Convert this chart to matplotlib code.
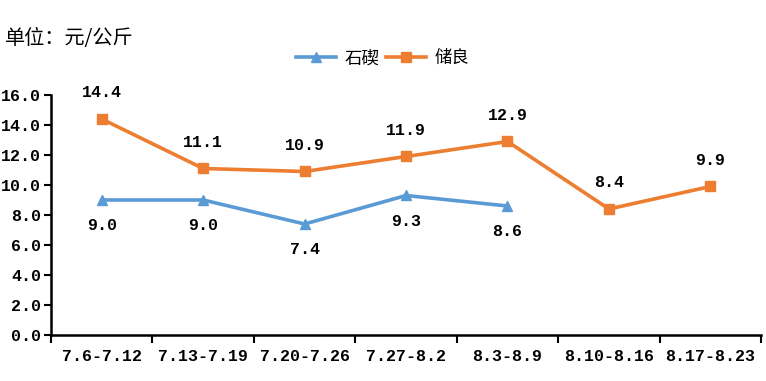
import matplotlib
matplotlib.use('Agg')
import matplotlib.pyplot as plt
import numpy as np

plt.rcParams['font.family'] = ['Liberation Mono', 'Noto Sans CJK SC', 'DejaVu Sans']

weeks = ['7.6-7.12', '7.13-7.19', '7.20-7.26', '7.27-8.2', '8.3-8.9', '8.10-8.16', '8.17-8.23']
shiqi = [9.0, 9.0, 7.4, 9.3, 8.6, np.nan, np.nan]
chuliang = [14.4, 11.1, 10.9, 11.9, 12.9, 8.4, 9.9]

blue = '#5B9BD5'
orange = '#ED7D31'

fig = plt.figure(figsize=(7.66, 3.81), dpi=100)
ax = fig.add_axes([0.0666, 0.1207, 0.927, 0.63])

x = np.arange(len(weeks))
ax.plot(x, shiqi, color=blue, lw=2.6, marker='^', ms=7, label='石碶')
ax.plot(x, chuliang, color=orange, lw=2.6, marker='s', ms=6.5, label='储良')

# data labels: 石碶 below the point, 储良 above
for xi, v in zip(x, shiqi):
    if not np.isnan(v):
        ax.annotate(f'{v:.1f}', (xi, v), xytext=(0, -26), textcoords='offset pixels',
                    ha='center', va='center', fontsize=12, fontweight='bold')
for xi, v in zip(x, chuliang):
    ax.annotate(f'{v:.1f}', (xi, v), xytext=(0, 26), textcoords='offset pixels',
                ha='center', va='center', fontsize=12, fontweight='bold')

ax.set_xlim(-0.5, len(weeks) - 0.5)
ax.set_ylim(0, 16)
ax.set_yticks(np.arange(0, 17, 2))
ax.set_yticklabels([f'{t:.1f}' for t in np.arange(0, 17, 2)], fontsize=12, fontweight='bold')
ax.set_xticks(np.arange(-0.5, len(weeks), 1.0))
ax.set_xticklabels([])
ax.set_xticks(x, minor=True)
ax.set_xticklabels(weeks, minor=True, fontsize=12, fontweight='bold')
ax.tick_params(axis='x', which='minor', length=0, pad=10)
ax.tick_params(axis='x', which='major', length=6, width=1.5, direction='out')
ax.tick_params(axis='y', length=5, width=1.5, direction='out', pad=2)

for s in ['top', 'right']:
    ax.spines[s].set_visible(False)
for s in ['left', 'bottom']:
    ax.spines[s].set_linewidth(1.8)

fig.text(0.007, 0.9, '单位：元/公斤', fontsize=14.5, va='center', ha='left',
         family=['Noto Sans CJK SC'], fontweight='medium')
fig.legend(loc='center', bbox_to_anchor=(0.5, 0.847), ncol=2, frameon=False,
           prop={'size': 12.5, 'family': ['Noto Sans CJK SC'], 'weight': 'medium'},
           handlelength=2.3, columnspacing=0.4, handletextpad=0.5)

fig.savefig('out.png', dpi=100)
